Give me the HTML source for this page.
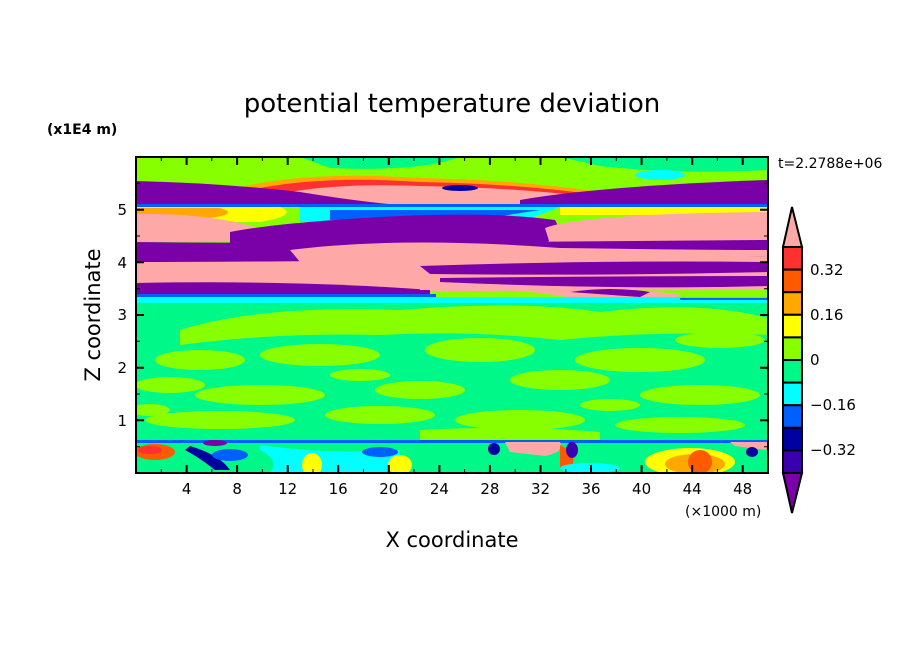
<!DOCTYPE html>
<html><head><meta charset="utf-8"><style>
body{margin:0;background:#fff;}
svg text{font-family:"DejaVu Sans","Liberation Sans",sans-serif;fill:#000;}
</style></head><body>
<svg width="904" height="654" viewBox="0 0 904 654" xmlns="http://www.w3.org/2000/svg">
<defs><clipPath id="c"><rect x="136" y="157" width="632" height="316"/></clipPath></defs>
<text x="452" y="112" font-size="26" text-anchor="middle">potential temperature deviation</text>
<text x="47" y="134" font-size="14" font-weight="bold">(x1E4 m)</text>
<text x="778" y="168" font-size="14">t=2.2788e+06</text>
<g clip-path="url(#c)">
<rect x="136" y="157" width="632" height="316" fill="#00f888"/>
<rect x="136" y="157" width="632" height="140" fill="#88ff00"/>
<path d="M300 157 H460 Q420 172 330 168 Z M560 157 H768 V170 Q680 175 600 166 Z" fill="#00f888"/>
<ellipse cx="440" cy="186" rx="40" ry="6" fill="#00ffff"/>
<ellipse cx="660" cy="175" rx="25" ry="5" fill="#00ffff"/>
<path d="M230 190 Q300 170 420 178 Q520 180 600 192 L600 206 L230 206 Z" fill="#ffa800"/>
<path d="M250 190 Q320 175 420 182 Q520 184 590 194 L590 206 L250 206 Z" fill="#ff3030"/>
<path d="M290 192 Q340 183 420 186 Q520 188 580 196 L580 206 L290 206 Z" fill="#ffa8a8"/>
<ellipse cx="460" cy="188" rx="18" ry="3" fill="#0000a0"/>
<path d="M136 181 Q220 183 300 192 Q380 205 420 206 L136 206 Z" fill="#7a00a8"/>
<path d="M520 200 Q600 186 768 180 L768 205 L520 205 Z" fill="#7a00a8"/>
<rect x="136" y="204" width="632" height="3" fill="#0060ff"/>
<path d="M136 207 H280 Q300 215 260 222 L136 222 Z" fill="#ffff00"/>
<path d="M136 208 H220 Q240 214 210 218 L136 218 Z" fill="#ffa800"/>
<path d="M300 207 H560 Q540 215 520 222 L300 222 Z" fill="#00ffff"/>
<path d="M330 210 H540 Q500 216 480 220 L330 220 Z" fill="#0060ff"/>
<path d="M560 207 H768 V215 H560 Z" fill="#ffff00"/>
<path d="M136 214 Q230 212 290 240 L136 242 Z" fill="#ffa8a8"/>
<path d="M230 232 Q280 222 400 216 Q500 212 555 220 Q565 236 540 245 L230 248 Z" fill="#7a00a8"/>
<path d="M545 228 Q580 214 768 212 L768 240 L550 244 Z" fill="#ffa8a8"/>
<path d="M136 242 Q300 244 768 240 L768 258 Q500 262 136 264 Z" fill="#7a00a8"/>
<path d="M290 250 Q400 236 560 248 Q700 250 768 250 L768 256 Q600 260 300 262 Z" fill="#ffa8a8"/>
<path d="M136 262 Q300 262 768 256 L768 290 L136 292 Z" fill="#ffa8a8"/>
<path d="M420 266 Q600 260 768 262 L768 272 Q600 276 430 274 Z" fill="#7a00a8"/>
<path d="M440 278 Q600 276 768 276 L768 286 Q620 290 440 282 Z" fill="#7a00a8"/>
<path d="M136 283 Q300 280 430 290 L430 298 L136 298 Z" fill="#7a00a8"/>
<path d="M420 290 Q520 288 560 296 Q620 306 670 302 L680 294 Q600 286 420 288 Z" fill="#ffa8a8"/>
<path d="M570 292 Q610 286 650 292 L640 297 Z" fill="#7a00a8"/>
<rect x="136" y="294" width="300" height="3" fill="#0060ff"/>
<path d="M136 297 H768 V303 H136 Z" fill="#00ffff"/>
<path d="M680 298 H768 V300 H680 Z" fill="#0060ff"/>
<g fill="#88ff00">
<path d="M180 330 Q260 305 400 310 Q520 300 600 312 Q700 300 768 318 L768 335 Q660 330 560 340 Q470 330 380 335 Q280 332 180 345 Z"/>
<ellipse cx="200" cy="360" rx="45" ry="10"/>
<ellipse cx="320" cy="355" rx="60" ry="11"/>
<ellipse cx="480" cy="350" rx="55" ry="12"/>
<ellipse cx="640" cy="360" rx="65" ry="12"/>
<ellipse cx="170" cy="385" rx="35" ry="8"/>
<ellipse cx="260" cy="395" rx="65" ry="10"/>
<ellipse cx="420" cy="390" rx="45" ry="9"/>
<ellipse cx="560" cy="380" rx="50" ry="10"/>
<ellipse cx="700" cy="395" rx="60" ry="10"/>
<ellipse cx="220" cy="420" rx="75" ry="9"/>
<ellipse cx="380" cy="415" rx="55" ry="9"/>
<ellipse cx="520" cy="420" rx="65" ry="10"/>
<ellipse cx="680" cy="425" rx="65" ry="8"/>
<path d="M420 430 Q520 425 600 432 L600 441 L420 441 Z"/>
<ellipse cx="720" cy="340" rx="45" ry="8"/>
<ellipse cx="150" cy="410" rx="20" ry="6"/>
<ellipse cx="610" cy="405" rx="30" ry="6"/>
<ellipse cx="360" cy="375" rx="30" ry="6"/>
</g>
<rect x="136" y="440" width="632" height="3" fill="#0060ff"/>
<ellipse cx="155" cy="452" rx="20" ry="8" fill="#ff5a00"/>
<ellipse cx="150" cy="450" rx="12" ry="4" fill="#ff3030"/>
<path d="M190 446 Q220 455 230 470 L215 470 Q200 458 185 450 Z" fill="#0000a0"/>
<ellipse cx="230" cy="455" rx="18" ry="6" fill="#0060ff"/>
<path d="M260 445 Q330 455 400 450 L400 473 L270 473 Q280 460 260 450 Z" fill="#00ffff"/>
<ellipse cx="312" cy="465" rx="10" ry="12" fill="#ffff00"/>
<ellipse cx="400" cy="465" rx="12" ry="10" fill="#ffff00"/>
<ellipse cx="380" cy="452" rx="18" ry="5" fill="#0060ff"/>
<ellipse cx="215" cy="443" rx="12" ry="3" fill="#7a00a8"/>
<path d="M505 442 H560 Q565 452 545 456 L510 452 Z" fill="#ffa8a8"/>
<path d="M560 445 Q580 455 570 470 L560 468 Z" fill="#ff5a00"/>
<ellipse cx="494" cy="449" rx="6" ry="6" fill="#0000a0"/>
<ellipse cx="572" cy="450" rx="6" ry="8" fill="#3a00b0"/>
<ellipse cx="690" cy="462" rx="45" ry="14" fill="#ffff00"/>
<ellipse cx="695" cy="464" rx="30" ry="10" fill="#ffa800"/>
<ellipse cx="700" cy="462" rx="12" ry="12" fill="#ff5a00"/>
<path d="M730 442 H768 V450 Q750 448 735 446 Z" fill="#ffa8a8"/>
<ellipse cx="752" cy="452" rx="6" ry="5" fill="#0000a0"/>
<ellipse cx="590" cy="468" rx="30" ry="5" fill="#00ffff"/>
</g>
<rect x="136" y="157" width="632" height="316" fill="none" stroke="#000" stroke-width="2"/>
<g stroke="#000" stroke-width="2">
<path d="M186.6 473v-8M237.1 473v-8M287.7 473v-8M338.2 473v-8M388.8 473v-8M439.4 473v-8M489.9 473v-8M540.5 473v-8M591 473v-8M641.6 473v-8M692.2 473v-8M742.7 473v-8"/>
<path d="M186.6 157v8M237.1 157v8M287.7 157v8M338.2 157v8M388.8 157v8M439.4 157v8M489.9 157v8M540.5 157v8M591 157v8M641.6 157v8M692.2 157v8M742.7 157v8"/>
<path d="M136 420.3h8M136 367.7h8M136 315h8M136 262.3h8M136 209.7h8M768 420.3h-8M768 367.7h-8M768 315h-8M768 262.3h-8M768 209.7h-8"/>
</g>
<g stroke="#000" stroke-width="1">
<path d="M161.3 473v-4M211.8 473v-4M262.4 473v-4M313 473v-4M363.5 473v-4M414 473v-4M464.6 473v-4M515.2 473v-4M565.8 473v-4M616.3 473v-4M666.9 473v-4M717.4 473v-4M161.3 157v4M211.8 157v4M262.4 157v4M313 157v4M363.5 157v4M414 157v4M464.6 157v4M515.2 157v4M565.8 157v4M616.3 157v4M666.9 157v4M717.4 157v4"/>
<path d="M136 446.7h4M136 394h4M136 341.3h4M136 288.7h4M136 236h4M136 183.3h4M768 446.7h-4M768 394h-4M768 341.3h-4M768 288.7h-4M768 236h-4M768 183.3h-4"/>
</g>
<g font-size="15" text-anchor="middle">
<text x="186.6" y="494">4</text><text x="237.1" y="494">8</text><text x="287.7" y="494">12</text><text x="338.2" y="494">16</text><text x="388.8" y="494">20</text><text x="439.4" y="494">24</text><text x="489.9" y="494">28</text><text x="540.5" y="494">32</text><text x="591" y="494">36</text><text x="641.6" y="494">40</text><text x="692.2" y="494">44</text><text x="742.7" y="494">48</text>
</g>
<g font-size="15" text-anchor="end">
<text x="127" y="426">1</text><text x="127" y="373">2</text><text x="127" y="320">3</text><text x="127" y="268">4</text><text x="127" y="215">5</text>
</g>
<text x="685" y="516" font-size="14">(×1000 m)</text>
<text x="452" y="547" font-size="21" text-anchor="middle">X coordinate</text>
<text transform="translate(100,315) rotate(-90)" font-size="21" text-anchor="middle">Z coordinate</text>
<g stroke="#000" stroke-width="2">
<path d="M792 207 L802 247 H783 Z" fill="#ffa8a8"/>
<rect x="783" y="247" width="19" height="22.6" fill="#ff3030"/>
<rect x="783" y="269.6" width="19" height="22.6" fill="#ff5a00"/>
<rect x="783" y="292.2" width="19" height="22.6" fill="#ffa800"/>
<rect x="783" y="314.8" width="19" height="22.6" fill="#ffff00"/>
<rect x="783" y="337.4" width="19" height="22.6" fill="#88ff00"/>
<rect x="783" y="360" width="19" height="22.6" fill="#00f888"/>
<rect x="783" y="382.6" width="19" height="22.6" fill="#00ffff"/>
<rect x="783" y="405.2" width="19" height="22.6" fill="#0060ff"/>
<rect x="783" y="427.8" width="19" height="22.6" fill="#0000a0"/>
<rect x="783" y="450.4" width="19" height="22.6" fill="#3a00b0"/>
<path d="M783 473 H802 L792 513 Z" fill="#7a00a8"/>
</g>
<g font-size="15">
<text x="810" y="275">0.32</text><text x="810" y="320">0.16</text><text x="810" y="365">0</text><text x="810" y="410">−0.16</text><text x="810" y="455">−0.32</text>
</g>
</svg>
</body></html>
